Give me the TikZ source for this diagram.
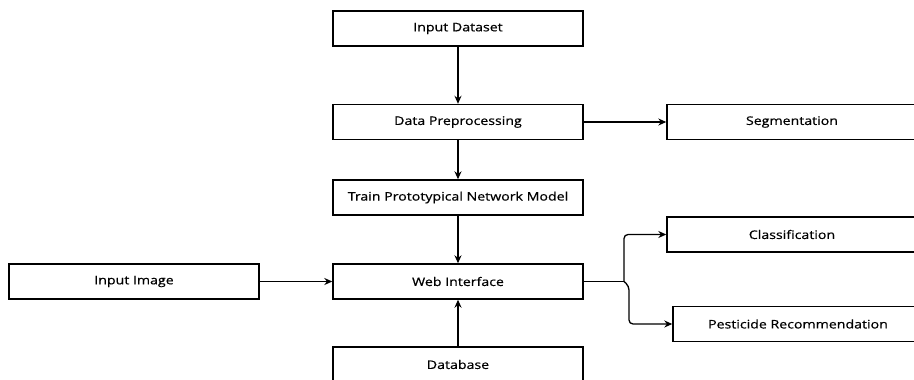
\documentclass[tikz,border=0pt]{standalone}
\usepackage{fontspec}
\setmainfont{Open Sans}[FakeStretch=1.2, UprightFeatures={FakeBold=0.6}]
\usepackage{tikz}
\usetikzlibrary{arrows.meta}
\tikzset{
  box/.style={draw=black, line width=1.4pt, minimum width=250pt, minimum height=35pt,
    inner sep=0pt, font=\fontsize{11.8}{13}\selectfont},
  arrow/.style={draw=black, line width=1.3pt, -{Stealth[length=8pt, width=7pt]}},
  link/.style={draw=black, line width=1.3pt, rounded corners=4pt}
}

\begin{document}
\begin{tikzpicture}[x=1pt, y=-1pt]
  \useasboundingbox (0,0) rectangle (914,380);
  \clip (0,0) rectangle (914,380);

  \node[box] (dataset) at (458,28.5) {Input Dataset};
  \node[box] (prep)    at (458,122)  {Data Preprocessing};
  \node[box] (seg)     at (792,122)  {Segmentation};
  \node[box] (train)   at (458,197.5){Train Prototypical Network Model};
  \node[box] (web)     at (458,281.5){Web Interface};
  \node[box] (image)   at (134,281.5){Input Image};
  \node[box] (cls)     at (792,234.5){Classification};
  \node[box] (pest)    at (798,324)  {Pesticide Recommendation};
  \node[box] (db)      at (458,364.5){Database};

  \draw[arrow] (dataset) -- (prep);
  \draw[arrow] (prep) -- (seg);
  \draw[arrow] (prep) -- (train);
  \draw[arrow] (train) -- (web);
  \draw[arrow] (image) -- (web);
  \draw[arrow] (db) -- (web);

  % branch to the two outputs
  \coordinate (fork) at (624,281.5);
  \draw[link] (web.east) -- (fork);
  \draw[link, -{Stealth[length=8pt, width=7pt]}] (fork) -- (624,234.5) -- (cls.west);
  \draw[link, -{Stealth[length=8pt, width=7pt]}] (fork) -- (629,286) -- (629,324) -- (pest.west);
\end{tikzpicture}
\end{document}
